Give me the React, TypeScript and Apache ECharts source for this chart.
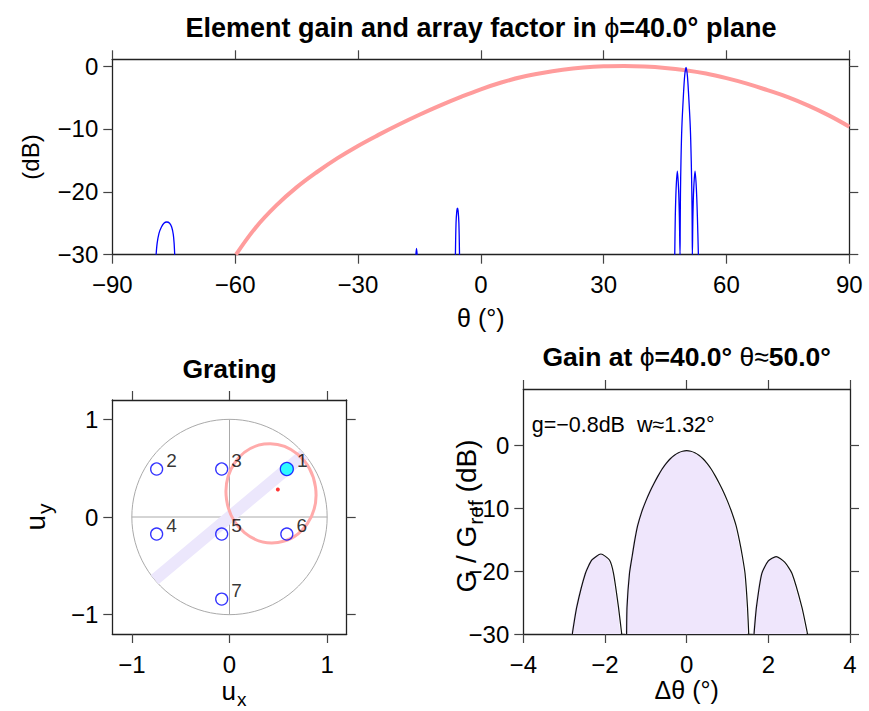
import React, { useEffect, useRef } from 'react';
import * as echarts from 'echarts';

// ---------- Top panel: element gain (pink) and array factor (blue) ----------
const thetaTicks = [-90, -60, -30, 0, 30, 60, 90];
const dbTicks = [-30, -20, -10, 0];

const pinkTheta = [-59.8, -55, -50, -45, -40, -35, -30, -25, -20, -15, -10, -5, 0, 5, 10, 15, 20, 25, 30, 35, 40, 45, 50, 55, 60, 65, 70, 75, 80, 85, 90];
const pinkGain = [-30, -25.7, -22.2, -19.3, -16.85, -14.65, -12.7, -10.95, -9.3, -7.75, -6.3, -4.95, -3.7, -2.62, -1.75, -1.1, -0.6, -0.25, -0.05, 0, -0.08, -0.3, -0.67, -1.2, -1.93, -2.8, -3.84, -4.95, -6.3, -7.85, -9.65];

// null separates the visible lobes (values below -30 dB are off the axis)
const afTheta = [
  -79.3, -79.05, -78.6, -78.0, -77.4, -76.7, -76.0, -75.5, -75.1, -74.9, -74.76, null,
  -15.85, -15.7, -15.55, null,
  -6.2, -6.05, -5.85, -5.7, -5.55, -5.35, -5.2, null,
  47.37, 47.5, 47.7, 48.0, 48.3, 48.5, 48.66,
  48.7, 48.76, 48.89, 49.1, 49.5, 49.8, 50.13, 50.45, 50.75, 51.17, 51.4, 51.55, 51.63, 51.67,
  51.8, 52.0, 52.33, 52.65, 52.9, 53.14
];
const afGain = [
  -30, -28.2, -26.6, -25.6, -25.0, -24.8, -25.0, -25.6, -26.8, -28.2, -30, null,
  -30, -29.0, -30, null,
  -30, -25.0, -23.0, -22.6, -23.0, -25.0, -30, null,
  -30, -24.0, -19.5, -16.7, -19.5, -24.0, -30,
  -25.7, -20.4, -15.1, -9.8, -4.5, -1.5, -0.2, -1.5, -4.5, -9.8, -15.1, -20.4, -25.7, -30,
  -24.0, -19.5, -16.7, -19.5, -24.0, -30
];

// ---------- Bottom-left panel: grating lobes in (ux, uy) ----------
const uTicks = [-1, 0, 1];
const lobeLabels = ['1', '2', '3', '4', '5', '6', '7'];
const lobeUx = [0.587, -0.746, -0.080, -0.746, -0.080, 0.587, -0.080];
const lobeUy = [0.492, 0.492, 0.492, -0.175, -0.175, -0.175, -0.842];
const visibleRadius = 1;
const scanUx = [-0.766, 0.766];
const scanUy = [-0.643, 0.643];
const elementEllipse = [0.425, 0.243, 0.46, 0.51, 8]; // cx, cy, rx, ry, tilt (deg)
const elementPeak = [0.495, 0.282];

// ---------- Bottom-right panel: gain cut ----------
const dTicks = [-4, -2, 0, 2, 4];
const cutDelta = [
  -2.80, -2.69, -2.48, -2.32, -2.10, -1.89, -1.79, -1.67, -1.59, null,
  -1.47, -1.46, -1.40, -1.33, -1.27, -1.2, -1.1, -1.0, -0.9, -0.8, -0.7, -0.6, -0.5, -0.4, -0.3, -0.2, -0.1, 0,
  0.1, 0.2, 0.3, 0.4, 0.5, 0.6, 0.7, 0.8, 0.9, 1.0, 1.1, 1.21, 1.29, 1.36, 1.43, 1.49, 1.52, null,
  1.65, 1.71, 1.84, 2.0, 2.19, 2.40, 2.58, 2.82, 2.96
];
const cutGain = [
  -30, -25.7, -20.4, -18.25, -17.3, -18.25, -20.4, -25.7, -30, null,
  -30, -25.7, -20.4, -17.5, -15.1, -12.8, -10.6, -8.9, -7.4, -6.1, -4.9, -3.8, -2.9, -2.18, -1.62, -1.22, -0.98, -0.9,
  -0.98, -1.22, -1.62, -2.18, -2.9, -3.8, -4.9, -6.1, -7.4, -8.9, -10.6, -12.8, -15.1, -17.5, -20.4, -25.7, -30, null,
  -30, -25.7, -20.4, -18.4, -17.7, -18.6, -20.4, -25.7, -30
];
const fillShift = -0.03;

const FONT = 'Liberation Sans, Arial, Helvetica, sans-serif';
const TICK_FS = 24;
const NAME_FS = 24;
const TITLE_FS = 26.5;

const zip = (xs: (number | null)[], ys: (number | null)[], dx = 0) =>
  xs.map((x, i) => (x === null || ys[i] === null ? ['-', '-'] : [(x as number) + dx, ys[i]]));

const fmt = (v: number) => (v < 0 ? '\u2212' + Math.abs(v) : String(v));

const lineStyleAxis = { color: '#222', width: 1.3 };
const tickStyle = { color: '#444', width: 1.2 };

function makeAxis(gridIndex: number, position: string, min: number, max: number, ticks: number[], labels: boolean) {
  return {
    type: 'value',
    gridIndex,
    position,
    min,
    max,
    axisLine: { show: true, onZero: false, lineStyle: lineStyleAxis },
    axisTick: { show: true, inside: false, length: 9, lineStyle: tickStyle, customValues: ticks },
    axisLabel: {
      show: labels,
      customValues: ticks,
      formatter: (v: number) => fmt(v),
      fontFamily: FONT,
      fontSize: TICK_FS,
      lineHeight: 18,
      color: '#000',
      margin: position === 'bottom' ? 21 : 14,
    },
    splitLine: { show: false },
  };
}

// plotmath-like labels with subscripts
const subRich = {
  m: { fontFamily: FONT, fontSize: 28, lineHeight: 20, verticalAlign: 'top', fill: '#000' },
  s: { fontFamily: FONT, fontSize: 21, lineHeight: 18, padding: [13, 0, 0, 1], verticalAlign: 'top', fill: '#000' },
};
const subRichX = {
  m: { fontFamily: FONT, fontSize: 26, lineHeight: 20, verticalAlign: 'top', fill: '#000' },
  s: { fontFamily: FONT, fontSize: 19, lineHeight: 16, padding: [12, 0, 0, 1], verticalAlign: 'top', fill: '#000' },
};

export default function App() {
  const ref = useRef<HTMLDivElement>(null);
  useEffect(() => {
    if (!ref.current) return;
    const chart = echarts.init(ref.current, null, { renderer: 'svg' });

    const option: any = {
      animation: false,
      backgroundColor: '#fff',
      grid: [
        { left: 112.3, top: 59.3, width: 737, height: 195.4 },
        { left: 112.3, top: 400, width: 234.4, height: 234 },
        { left: 523.3, top: 389, width: 326.7, height: 245 },
      ],
      xAxis: [
        makeAxis(0, 'bottom', -90, 90, thetaTicks, true),
        makeAxis(0, 'top', -90, 90, thetaTicks, false),
        makeAxis(1, 'bottom', -1.2, 1.2, uTicks, true),
        makeAxis(1, 'top', -1.2, 1.2, uTicks, false),
        makeAxis(2, 'bottom', -4, 4, dTicks, true),
        makeAxis(2, 'top', -4, 4, dTicks, false),
      ],
      yAxis: [
        makeAxis(0, 'left', -30, 1.07, dbTicks, true),
        makeAxis(0, 'right', -30, 1.07, dbTicks, false),
        makeAxis(1, 'left', -1.2, 1.2, uTicks, true),
        makeAxis(1, 'right', -1.2, 1.2, uTicks, false),
        makeAxis(2, 'left', -30, 8.9, dbTicks, true),
        makeAxis(2, 'right', -30, 8.9, dbTicks, false),
      ],
      series: [
        {
          type: 'line', xAxisIndex: 0, yAxisIndex: 0, symbol: 'none', smooth: 0.4,
          data: zip(pinkTheta, pinkGain),
          lineStyle: { color: '#ff9c9c', width: 4 },
        },
        {
          type: 'line', xAxisIndex: 0, yAxisIndex: 0, symbol: 'none', smooth: 0.3,
          data: zip(afTheta, afGain),
          lineStyle: { color: '#0000ff', width: 1.3 },
        },
        // visible-region circle and crosshair
        {
          type: 'custom', xAxisIndex: 2, yAxisIndex: 2, silent: true, z: 1,
          data: [[0, 0, visibleRadius]],
          renderItem: (params: any, api: any) => {
            const c = api.coord([api.value(0), api.value(1)]);
            const r = api.size([api.value(2), api.value(2)])[0];
            const st = { stroke: '#aaaaaa', lineWidth: 1, fill: 'none' };
            return {
              type: 'group',
              children: [
                { type: 'circle', shape: { cx: c[0], cy: c[1], r }, style: st },
                { type: 'line', shape: { x1: c[0] - r, y1: c[1], x2: c[0] + r, y2: c[1] }, style: st },
                { type: 'line', shape: { x1: c[0], y1: c[1] - r, x2: c[0], y2: c[1] + r }, style: st },
              ],
            };
          },
        },
        // scan line
        {
          type: 'line', xAxisIndex: 2, yAxisIndex: 2, symbol: 'none', z: 2,
          data: zip(scanUx, scanUy),
          lineStyle: { color: '#ece7fc', width: 12, cap: 'butt', opacity: 1 },
        },
        // element ellipse
        {
          type: 'custom', xAxisIndex: 2, yAxisIndex: 2, silent: true, z: 3,
          data: [elementEllipse],
          renderItem: (params: any, api: any) => {
            const c = api.coord([api.value(0), api.value(1)]);
            const s = api.size([api.value(2), api.value(3)]);
            return {
              type: 'ellipse',
              x: c[0], y: c[1],
              rotation: (api.value(4) * Math.PI) / 180,
              shape: { cx: 0, cy: 0, rx: s[0], ry: s[1] },
              style: { fill: 'none', stroke: '#ffaaaa', lineWidth: 3 },
            };
          },
        },
        {
          type: 'scatter', xAxisIndex: 2, yAxisIndex: 2, symbolSize: 4, z: 4,
          data: [elementPeak],
          itemStyle: { color: '#ff0000' },
        },
        {
          type: 'scatter', xAxisIndex: 2, yAxisIndex: 2, symbol: 'circle', z: 5,
          data: lobeUx.map((x, i) => ({
            name: lobeLabels[i],
            value: [x, lobeUy[i]],
            symbolSize: i === 0 ? 13 : 12,
            itemStyle: i === 0
              ? { color: '#00ffff', borderColor: '#0000ff', borderWidth: 1.3 }
              : { color: 'rgba(0,0,0,0)', borderColor: '#0000ff', borderWidth: 1.3 },
          })),
          label: {
            show: true, position: 'right', distance: 3, offset: [0, -9],
            formatter: (p: any) => p.name, fontFamily: FONT, fontSize: 19, color: '#000',
          },
        },
        // bottom-right fill and outline
        {
          type: 'line', xAxisIndex: 4, yAxisIndex: 4, symbol: 'none', smooth: 0.2,
          data: zip(cutDelta, cutGain, fillShift),
          lineStyle: { width: 0, opacity: 0 },
          areaStyle: { color: '#efe6fc', opacity: 1, origin: 'start' },
        },
        {
          type: 'line', xAxisIndex: 4, yAxisIndex: 4, symbol: 'none', smooth: 0.2,
          data: zip(cutDelta, cutGain),
          lineStyle: { color: '#111', width: 1.2 },
        },
      ],
      graphic: [
        {
          type: 'text', x: 481, y: 28,
          style: {
            text: '{b|Element gain and array factor in }{n|\u03D5}{b|=40.0\u00B0 plane}',
            align: 'center', verticalAlign: 'middle',
            rich: {
              b: { fontFamily: FONT, fontSize: 27, fontWeight: 'bold', fill: '#000' },
              n: { fontFamily: FONT, fontSize: 27, fill: '#000' },
            },
          },
        },
        {
          type: 'text', x: 229.5, y: 369,
          style: { text: 'Grating', align: 'center', verticalAlign: 'middle', fontFamily: FONT, fontSize: TITLE_FS, fontWeight: 'bold', fill: '#000' },
        },
        {
          type: 'text', x: 686.7, y: 357,
          style: {
            text: '{b|Gain at }{n|\u03D5}{b|=40.0\u00B0 }{n|\u03B8\u2248}{b|50.0\u00B0}',
            align: 'center', verticalAlign: 'middle',
            rich: {
              b: { fontFamily: FONT, fontSize: TITLE_FS, fontWeight: 'bold', fill: '#000' },
              n: { fontFamily: FONT, fontSize: TITLE_FS, fill: '#000' },
            },
          },
        },
        {
          type: 'text', x: 30, y: 157, rotation: Math.PI / 2,
          style: { text: '(dB)', align: 'center', verticalAlign: 'middle', fontFamily: FONT, fontSize: NAME_FS, fill: '#000' },
        },
        {
          type: 'text', x: 480.8, y: 318,
          style: { text: '\u03B8 (\u00B0)', align: 'center', verticalAlign: 'middle', fontFamily: FONT, fontSize: 25, fill: '#000' },
        },
        {
          type: 'text', x: 21, y: 517, rotation: Math.PI / 2,
          style: { text: '{m|u}{s|y}', align: 'center', verticalAlign: 'top', rich: subRich },
        },
        {
          type: 'text', x: 234, y: 678,
          style: { text: '{m|u}{s|x}', align: 'center', verticalAlign: 'top', rich: subRichX },
        },
        {
          type: 'text', x: 452, y: 516, rotation: Math.PI / 2,
          style: { text: '{m|G / G}{s|ref}{m| (dB)}', align: 'center', verticalAlign: 'top', rich: subRich },
        },
        {
          type: 'text', x: 686.7, y: 690,
          style: { text: '\u0394\u03B8 (\u00B0)', align: 'center', verticalAlign: 'middle', fontFamily: FONT, fontSize: 25, fill: '#000' },
        },
        {
          type: 'text', x: 531.7, y: 425,
          style: { text: 'g=\u22120.8dB  w\u22481.32\u00B0', align: 'left', verticalAlign: 'middle', fontFamily: FONT, fontSize: 21.5, fill: '#000' },
        },
      ],
    };
    chart.setOption(option);
    return () => chart.dispose();
  }, []);
  return <div ref={ref} style={{ position: 'absolute', left: 0, top: 0, width: 869, height: 711 }} />;
}
